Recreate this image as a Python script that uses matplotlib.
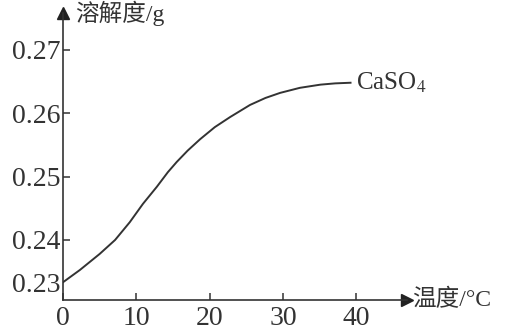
import matplotlib
matplotlib.use("Agg")
import matplotlib.pyplot as plt
import numpy as np

# CaSO4 solubility curve
temp = [0, 2.3, 5.0, 7.1, 9.1, 10.9, 12.8, 14.3, 15.5, 17.0, 18.7,
        20.7, 22.8, 25.5, 27.6, 29.6, 32.3, 35.1, 37.1, 39.2]
solub = [0.2300, 0.2329, 0.2367, 0.2400, 0.2428, 0.2457, 0.2484, 0.2507,
         0.2523, 0.2541, 0.2559, 0.2578, 0.2594, 0.2613, 0.2624, 0.2632,
         0.2640, 0.2645, 0.2647, 0.2648]
xticks = [0, 10, 20, 30, 40]
yticks = [0.23, 0.24, 0.25, 0.26, 0.27]

plt.rcParams['font.family'] = ['Liberation Serif', 'Noto Sans CJK SC']
plt.rcParams['mathtext.fontset'] = 'stix'


# the gap between 0.23 and 0.24 is drawn shorter than the rest
def fwd(y):
    y = np.asarray(y, dtype=float)
    return np.where(y >= 0.24, y, 0.24 - (0.24 - y) * 2 / 3)


def inv(p):
    p = np.asarray(p, dtype=float)
    return np.where(p >= 0.24, p, 0.24 - (0.24 - p) * 1.5)


fig = plt.figure(figsize=(5.24, 3.36), dpi=100)
ax = fig.add_axes([63 / 524, 36 / 336, 344 / 524, 287 / 336])
ax.set_yscale('function', functions=(fwd, inv))

ax.plot(temp, solub, color='#333333', lw=1.4, solid_joinstyle='round')

ax.set_xlim(0, 46.9)
ax.set_ylim(0.2258, 0.2758)
ax.set_xticks(xticks)
ax.set_yticks(yticks)
ax.set_xticklabels([str(t) for t in xticks])
ax.set_yticklabels(['%.2f' % t for t in yticks])
ax.tick_params(direction='in', length=5, width=1.1, labelsize=20, pad=2,
               colors='#333333')
ax.tick_params(axis='x', pad=4)
ax.yaxis.get_major_ticks()[0].tick1line.set_visible(False)

for s in ['top', 'right']:
    ax.spines[s].set_visible(False)
for s in ['left', 'bottom']:
    ax.spines[s].set_linewidth(1.2)
    ax.spines[s].set_color('#333333')

# arrow heads
ax.plot(1, 0, '>', color='#222222', ms=9, transform=ax.transAxes, clip_on=False)
ax.plot(0, 1, '^', color='#222222', ms=9, transform=ax.transAxes, clip_on=False)

ax.text(0.035, 1.0, '溶解度/g', transform=ax.transAxes, fontsize=17,
        va='center', ha='left', color='#333333')
ax.text(1.015, 0.0, '温度/°C', transform=ax.transAxes, fontsize=17,
        va='center', ha='left', color='#333333')
ax.text(40.0, 0.2648, 'CaSO$_4$', fontsize=18, va='center', ha='left',
        color='#333333')

fig.savefig('out.png', dpi=100)
